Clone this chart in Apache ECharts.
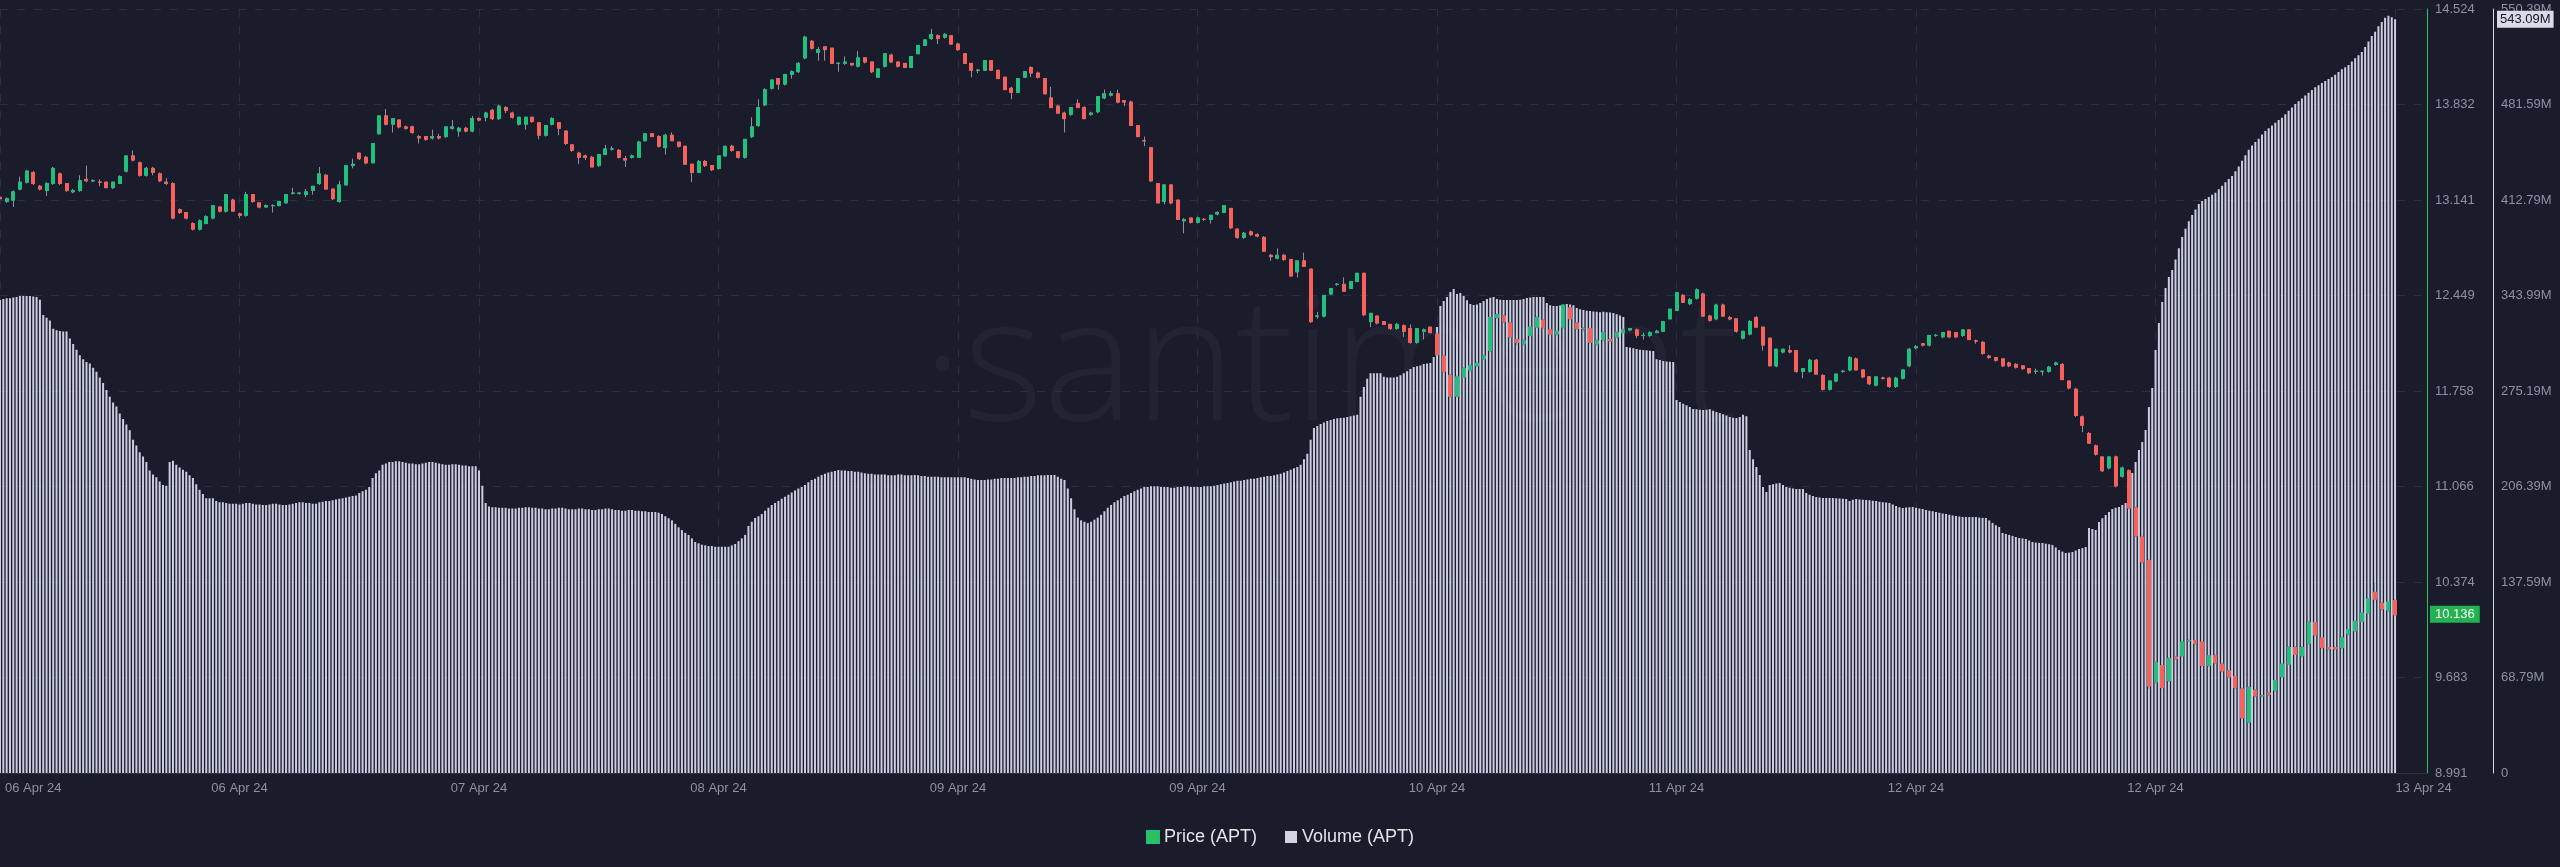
<!DOCTYPE html>
<html><head><meta charset="utf-8">
<script src="https://cdn.jsdelivr.net/npm/echarts@6/dist/echarts.min.js"></script>
<style>html,body{margin:0;padding:0;background:#1a1c2c;}#c{width:2560px;height:867px;}</style>
</head><body><div id="c"></div>
<script>
// x-axis tick labels, one every 36 candles (18 h of 30-min candles)
const xTickLabels = ['06 Apr 24','06 Apr 24','07 Apr 24','08 Apr 24','09 Apr 24','09 Apr 24','10 Apr 24','11 Apr 24','12 Apr 24','12 Apr 24','13 Apr 24'];
const seriesNames = ['Price (APT)', 'Volume (APT)'];

// 30-min candles: [open, close, low, high]
const candles = [
[13.16,13.15,13.13,13.19],[13.13,13.15,13.12,13.16],[13.14,13.20,13.09,13.21],[13.22,13.27,13.21,13.31],[13.27,13.35,13.26,13.36],
[13.34,13.26,13.25,13.35],[13.24,13.22,13.21,13.25],[13.21,13.26,13.17,13.27],[13.26,13.37,13.25,13.38],[13.33,13.26,13.25,13.34],
[13.26,13.21,13.20,13.26],[13.20,13.21,13.19,13.22],[13.21,13.28,13.20,13.32],[13.29,13.28,13.27,13.39],[13.28,13.28,13.27,13.29],
[13.27,13.27,13.24,13.29],[13.27,13.23,13.23,13.27],[13.23,13.27,13.22,13.27],[13.26,13.31,13.26,13.32],[13.35,13.46,13.34,13.46],
[13.46,13.43,13.42,13.50],[13.41,13.32,13.31,13.42],[13.32,13.37,13.31,13.38],[13.37,13.34,13.32,13.38],[13.33,13.28,13.27,13.34],
[13.27,13.26,13.25,13.30],[13.26,13.01,13.00,13.27],[13.07,13.05,13.04,13.08],[13.05,13.01,13.00,13.05],[12.97,12.93,12.92,12.98],
[12.93,12.99,12.92,13.00],[12.97,13.02,12.97,13.03],[13.01,13.10,13.00,13.10],[13.09,13.06,13.05,13.09],[13.06,13.18,13.05,13.18],
[13.14,13.06,13.06,13.15],[13.04,13.03,13.01,13.05],[13.03,13.18,13.02,13.20],[13.18,13.13,13.12,13.18],[13.12,13.09,13.08,13.12],
[13.09,13.10,13.09,13.11],[13.10,13.10,13.05,13.11],[13.10,13.13,13.10,13.13],[13.12,13.18,13.12,13.18],[13.19,13.19,13.18,13.23],
[13.19,13.19,13.18,13.19],[13.18,13.20,13.16,13.22],[13.21,13.24,13.18,13.24],[13.26,13.33,13.25,13.38],[13.32,13.22,13.22,13.33],
[13.22,13.15,13.14,13.22],[13.13,13.25,13.12,13.28],[13.25,13.39,13.25,13.39],[13.39,13.40,13.37,13.44],[13.48,13.44,13.43,13.48],
[13.45,13.41,13.40,13.46],[13.41,13.55,13.41,13.55],[13.62,13.75,13.62,13.75],[13.75,13.69,13.68,13.80],[13.69,13.73,13.63,13.73],
[13.72,13.67,13.66,13.72],[13.67,13.66,13.65,13.68],[13.67,13.63,13.62,13.68],[13.60,13.59,13.55,13.61],[13.60,13.58,13.57,13.60],
[13.59,13.60,13.58,13.65],[13.60,13.59,13.58,13.62],[13.60,13.67,13.59,13.67],[13.66,13.67,13.65,13.72],[13.64,13.66,13.60,13.67],
[13.66,13.64,13.63,13.67],[13.64,13.73,13.63,13.75],[13.73,13.72,13.71,13.74],[13.74,13.77,13.71,13.78],[13.79,13.73,13.72,13.80],
[13.73,13.82,13.72,13.83],[13.81,13.79,13.77,13.82],[13.77,13.74,13.73,13.78],[13.69,13.74,13.68,13.74],[13.69,13.74,13.65,13.74],
[13.74,13.71,13.70,13.74],[13.70,13.61,13.58,13.70],[13.61,13.68,13.60,13.68],[13.69,13.73,13.68,13.74],[13.70,13.66,13.61,13.70],
[13.64,13.55,13.54,13.64],[13.54,13.50,13.49,13.54],[13.48,13.45,13.40,13.49],[13.46,13.45,13.43,13.47],[13.45,13.38,13.38,13.46],
[13.39,13.47,13.38,13.47],[13.47,13.51,13.47,13.54],[13.51,13.51,13.50,13.53],[13.50,13.45,13.44,13.51],[13.44,13.43,13.38,13.46],
[13.45,13.46,13.44,13.47],[13.45,13.56,13.45,13.57],[13.57,13.62,13.57,13.62],[13.62,13.60,13.60,13.62],[13.60,13.53,13.52,13.61],
[13.52,13.61,13.47,13.62],[13.61,13.57,13.57,13.63],[13.56,13.53,13.52,13.56],[13.53,13.40,13.40,13.53],[13.40,13.34,13.27,13.40],
[13.34,13.42,13.34,13.43],[13.42,13.39,13.38,13.43],[13.39,13.36,13.35,13.39],[13.37,13.46,13.36,13.46],[13.46,13.53,13.46,13.53],
[13.53,13.50,13.49,13.54],[13.49,13.45,13.44,13.49],[13.45,13.58,13.44,13.58],[13.60,13.67,13.59,13.74],[13.68,13.81,13.67,13.87],
[13.83,13.94,13.82,13.95],[13.95,14.01,13.94,14.01],[14.02,13.98,13.94,14.02],[13.98,14.05,13.97,14.05],[14.05,14.07,14.02,14.08],
[14.07,14.13,14.06,14.14],
[14.17,14.32,14.16,14.33],[14.29,14.24,14.23,14.30],[14.21,14.23,14.15,14.25],[14.25,14.23,14.15,14.25],[14.24,14.13,14.13,14.24],
[14.13,14.13,14.07,14.14],[14.13,14.14,14.12,14.18],[14.13,14.12,14.11,14.13],[14.11,14.17,14.10,14.22],[14.17,14.14,14.13,14.17],
[14.14,14.07,14.06,14.14],[14.03,14.09,14.03,14.09],[14.11,14.20,14.10,14.20],[14.19,14.14,14.14,14.20],[14.14,14.11,14.10,14.14],
[14.13,14.10,14.10,14.13],[14.10,14.18,14.10,14.18],[14.20,14.26,14.20,14.26],[14.26,14.30,14.26,14.30],[14.31,14.34,14.30,14.38],
[14.33,14.31,14.27,14.34],[14.32,14.34,14.31,14.35],[14.33,14.27,14.27,14.33],[14.27,14.23,14.22,14.28],[14.20,14.13,14.13,14.20],
[14.13,14.08,14.03,14.13],[14.08,14.08,14.06,14.09],[14.08,14.15,14.08,14.15],[14.15,14.08,14.08,14.15],[14.08,14.02,14.02,14.08],
[14.03,13.94,13.94,14.03],[13.95,13.92,13.87,13.96],[13.92,14.02,13.92,14.02],[14.03,14.07,14.03,14.07],[14.10,14.06,14.03,14.11],
[14.06,14.03,14.02,14.07],[14.02,13.91,13.91,14.02],[13.88,13.81,13.81,13.96],[13.82,13.77,13.77,13.83],[13.77,13.73,13.63,13.78],
[13.76,13.81,13.75,13.81],[13.84,13.81,13.81,13.87],[13.81,13.73,13.73,13.82],[13.76,13.77,13.75,13.78],[13.78,13.89,13.77,13.89],
[13.88,13.91,13.87,13.94],[13.90,13.91,13.89,13.93],[13.91,13.85,13.84,13.94],[13.86,13.85,13.82,13.86],[13.85,13.68,13.68,13.86],
[13.68,13.60,13.60,13.68],[13.57,13.57,13.53,13.60],[13.52,13.28,13.27,13.52],[13.26,13.12,13.12,13.26],[13.13,13.25,13.11,13.25],
[13.25,13.12,13.11,13.25],[13.14,13.00,13.00,13.14],[12.99,13.00,12.90,13.01],[13.01,12.98,12.97,13.01],[12.98,13.01,12.97,13.02],
[13.00,13.00,12.99,13.01],[13.00,13.03,12.97,13.03],[13.04,13.05,13.03,13.06],[13.05,13.10,13.05,13.10],[13.08,12.94,12.93,13.08],
[12.93,12.87,12.86,12.93],[12.87,12.90,12.86,12.91],[12.91,12.89,12.88,12.92],[12.89,12.88,12.87,12.90],[12.87,12.77,12.77,12.88],
[12.74,12.73,12.70,12.75],[12.72,12.74,12.71,12.79],[12.74,12.71,12.70,12.75],[12.71,12.59,12.59,12.71],[12.62,12.70,12.58,12.70],
[12.70,12.66,12.66,12.76],[12.64,12.26,12.25,12.64],[12.30,12.30,12.28,12.33],[12.30,12.45,12.29,12.45],[12.46,12.50,12.46,12.50],
[12.53,12.53,12.52,12.54],[12.53,12.48,12.48,12.58],[12.50,12.55,12.50,12.55],[12.55,12.61,12.55,12.61],[12.61,12.31,12.30,12.61],
[12.26,12.32,12.22,12.32],[12.30,12.25,12.24,12.30],[12.26,12.24,12.24,12.26],[12.24,12.21,12.20,12.24],[12.21,12.24,12.20,12.25],
[12.23,12.19,12.15,12.24],[12.21,12.11,12.10,12.24],[12.11,12.21,12.10,12.21],[12.19,12.20,12.13,12.21],[12.22,12.18,12.18,12.22],
[12.17,12.02,12.02,12.18],[12.01,11.90,11.89,12.02],[11.87,11.72,11.71,11.88],[11.72,11.86,11.71,11.87],[11.86,11.92,11.86,11.93],
[11.91,11.94,11.91,11.95],[11.94,11.96,11.93,11.97],[11.99,12.01,11.98,12.02],[12.05,12.29,12.04,12.29],[12.29,12.31,12.28,12.32],
[12.30,12.26,12.25,12.31],[12.25,12.15,12.14,12.25],[12.13,12.11,12.09,12.13],[12.10,12.12,12.09,12.13],[12.16,12.22,12.15,12.22],
[12.22,12.29,12.22,12.30],[12.27,12.22,12.21,12.28],[12.20,12.17,12.16,12.21],[12.17,12.19,12.16,12.19],[12.22,12.38,12.21,12.38],
[12.36,12.28,12.27,12.37],[12.25,12.21,12.20,12.25],[12.21,12.21,12.19,12.22],[12.21,12.11,12.10,12.21],[12.10,12.12,12.09,12.13],
[12.13,12.18,12.12,12.19],[12.13,12.12,12.11,12.14],[12.15,12.18,12.14,12.19],[12.18,12.20,12.18,12.21],[12.20,12.21,12.19,12.21],
[12.20,12.16,12.14,12.21],[12.16,12.16,12.13,12.18],[12.16,12.18,12.15,12.19],[12.18,12.19,12.18,12.20],[12.19,12.26,12.19,12.26],
[12.28,12.35,12.28,12.35],[12.34,12.47,12.34,12.47],[12.45,12.40,12.40,12.46],[12.39,12.42,12.38,12.43],[12.43,12.49,12.42,12.50],
[12.46,12.30,12.30,12.47],[12.30,12.27,12.26,12.31],[12.28,12.38,12.27,12.39],[12.38,12.30,12.30,12.39],[12.29,12.28,12.27,12.30],
[12.28,12.19,12.18,12.28],[12.14,12.19,12.13,12.19],[12.17,12.26,12.16,12.27],[12.29,12.22,12.22,12.30],[12.22,12.09,12.05,12.22],
[12.14,11.94,11.94,12.14],[11.94,12.06,11.93,12.06],[12.04,12.06,12.03,12.06],[12.05,12.04,12.03,12.09],[12.05,11.90,11.89,12.05],
[11.90,11.92,11.85,11.92],[11.90,11.98,11.89,11.99],[11.98,11.88,11.88,11.99],[11.87,11.77,11.76,11.88],[11.77,11.83,11.76,11.83],
[11.83,11.88,11.82,11.88],[11.90,11.90,11.89,11.91],[11.91,12.00,11.90,12.01],[11.99,11.91,11.91,12.00],[11.91,11.86,11.85,11.91],
[11.86,11.81,11.80,11.86],[11.80,11.86,11.79,11.86],[11.85,11.85,11.84,11.86],[11.85,11.79,11.78,11.86],[11.79,11.85,11.78,11.86],
[11.85,11.91,11.84,11.91],[11.94,12.06,11.93,12.07],[12.07,12.08,12.06,12.09],[12.10,12.09,12.08,12.10],[12.09,12.16,12.08,12.16],
[12.16,12.16,12.15,12.17],[12.15,12.18,12.14,12.18],[12.19,12.15,12.14,12.19],[12.18,12.15,12.14,12.18],[12.16,12.20,12.15,12.20],
[12.20,12.13,12.13,12.20],[12.12,12.12,12.10,12.13],[12.11,12.03,12.02,12.12],[12.01,12.00,11.99,12.02],[12.00,11.98,11.97,12.00],
[11.99,11.94,11.93,11.99],[11.96,11.94,11.93,11.97],[11.95,11.93,11.92,11.96],[11.94,11.92,11.91,11.94],[11.92,11.89,11.88,11.92],
[11.90,11.90,11.88,11.92],[11.90,11.90,11.87,11.90],[11.90,11.93,11.89,11.94],[11.95,11.96,11.94,11.97],[11.95,11.84,11.84,11.96],
[11.83,11.78,11.77,11.83],[11.77,11.58,11.57,11.78],[11.57,11.51,11.46,11.58],[11.45,11.38,11.38,11.46],[11.36,11.30,11.29,11.37],
[11.28,11.18,11.17,11.28],[11.20,11.28,11.19,11.28],[11.28,11.07,11.06,11.29],[11.14,11.20,11.13,11.21],[11.18,10.91,10.90,11.19],
[10.91,10.71,10.70,10.92],[10.70,10.52,10.51,10.71],[10.53,9.62,9.60,10.54],[9.65,9.79,9.64,9.80],[9.77,9.61,9.60,9.78],
[9.66,9.82,9.65,9.83],[9.83,9.82,9.81,9.84],[9.84,9.94,9.83,9.95],[9.95,9.95,9.94,9.96],[9.95,9.93,9.92,9.95],
[9.94,9.77,9.76,9.94],[9.77,9.84,9.76,9.84],[9.84,9.79,9.78,9.85],[9.78,9.73,9.72,9.79],[9.73,9.69,9.68,9.73],
[9.69,9.61,9.60,9.69],[9.60,9.39,9.38,9.61],[9.36,9.61,9.35,9.62],[9.59,9.55,9.54,9.60],[9.55,9.55,9.54,9.56],
[9.57,9.56,9.55,9.58],[9.59,9.66,9.58,9.66],[9.69,9.78,9.68,9.78],[9.78,9.90,9.78,9.91],[9.90,9.85,9.85,9.91],
[9.84,9.90,9.83,9.91],[9.93,10.08,9.92,10.09],[10.08,9.99,9.98,10.08],[9.97,9.90,9.89,9.97],[9.90,9.89,9.88,9.90],
[9.90,9.89,9.88,9.91],[9.90,9.97,9.89,9.98],[10.00,10.03,9.99,10.03],[10.02,10.09,10.01,10.09],[10.09,10.15,10.09,10.15],
[10.15,10.25,10.15,10.25],[10.30,10.25,10.24,10.37],[10.22,10.18,10.17,10.23],[10.17,10.23,10.16,10.23],[10.24,10.136,10.13,10.25]
];

// 15-min volume bars, millions of APT
const volumeM = [
340.7,341.5,342,342,342.5,343,343.6,343.6,343.6,343.6,
343.2,342.9,341,330,328,326,320,319,318.5,318,
318,313,309,305,301,298,296,295,292,289,
285,281,276,271,267,264,259,255,251,247,
240,236,231,228,224,218,215,213,210,207.5,
207,224,225,222,220,218.5,217,214.5,212.5,208,
204,201,198,198,198,196,195,195,194.5,194,
194,194,193.5,194,194.5,194.5,194,193.5,193.5,193,
193,193.5,194,194,193.5,193,193,193.5,194,194.5,
195,195,194.5,194.5,194,194,195,195.5,196,196,
196.5,197,197.5,198,198.5,199,199.5,200,201.7,203,
204,206,212.5,216,218,222,223,224,224,224.5,
224.5,224,223.5,223,223,222.5,222.5,223,223.5,224,
224,223.5,223,222.5,222,222,222.5,222.5,222,221.5,
221.5,221,221,221,218,207,194.5,192,191.5,191.5,
191,191,191,190.5,190.5,190.5,191,191,191.5,191.5,
191,191,190.5,190.5,190,190,190.5,190.5,191,191,
190.5,190,190,190,190.5,190.5,190,190,189.5,189.5,
190,190,190.5,190.5,190,189.5,189.5,189,189,189.5,
189.5,189,189,188.5,188.5,188,188,188,187.5,186.6,
185,183.5,182,179.5,177,175,173,171.5,169,166.4,
165.5,164.5,164,163.5,163.5,163,163,163,163,163,
164,165,167,169,171.5,178,181,183.7,185,186.6,
189,191,193,194.5,196,197.5,199,200.5,202,203.5,
205,206,207.5,209.5,211,212,213.5,214.7,215.5,216.5,
217,217.5,218.3,218,218,217.5,217.5,217,217,216.5,
216,215.5,215.5,215,215,215,215,214.5,214.5,214.5,
215,215,214.5,214.5,214.5,214.7,214.5,214,214,213.5,
213.5,213.5,213.5,213,213,213,213,213,213,213,
213,212.5,212,211.5,211,211,211,211.5,211.5,212,
212,212.5,212.5,212.5,212.5,212.5,213,213,213.5,213.5,
214,214,214.5,214.5,214.5,214.7,214.7,214.7,213.5,212,
211,205,198,190,184,182,181,180,181,182.5,
184,186,188.5,191,193,195,196.5,198,199.5,200.5,
201.7,203,204,205,206,206,206.5,206.5,206.5,206,
206,206,205.5,205.5,206,206,206.5,206.5,206,206,
206,206,206.5,206.5,206.5,207,207.5,208,208.5,209,
209.5,210,210.5,210.5,211,211.5,212,212,212.5,213,
213.5,214,214,214.5,215,215.5,216.5,217.5,218.5,219.5,
220.5,222,226,230,240,248.5,250,251.5,252.5,253.5,
254.3,255,255.5,255.7,256,256.5,257,257.5,258,271,
278,284,288,288,288,288,285.5,285,285,285,
285.5,286.5,288,289.5,291,292.5,293,293.5,294.6,295,
295.4,299.7,321.3,336.4,340,342.9,346.5,348.7,345,345.8,
343.6,340.5,337.8,337.1,337.5,338.6,340,341.5,342.3,342.9,
341.5,341,340.7,340.7,340.7,340.7,340.7,341,341.5,342.2,
342.5,342.9,342.9,343,342.9,338.6,337,336.4,336.4,336.8,
337.1,337.8,337.5,337,335,334,333.5,333,332.8,332.5,
332.2,332,332.3,332,331.7,331.4,330.5,329.5,328.5,306.9,
306.5,306,305.5,305,304.7,304.5,304.2,304,298,297.5,
296.8,296.5,296.2,296,268.7,267.3,266,265,263.7,262.2,
262,261.7,261.5,261.7,262,261,260,259.3,258.5,257.5,
256.5,256,255.7,256.5,258,257,232.7,226,220.4,214.7,
206,202.4,207.5,208,208.5,209,207.5,206,205.5,205,
204.6,204.6,204.6,201.7,200.5,199.5,198.8,198.5,198.2,198.1,
198.1,198.1,198,197.8,197.5,197.4,196,196.8,197.4,197,
196.8,196.7,196.5,196.2,196,195.5,195,194.8,194.5,193.5,
192.3,191.5,190.9,191.2,191.5,191.6,191,190.5,190.2,189.5,
189,188.5,188,187.5,187,186.6,186,185.5,185.1,184.8,
184.5,184.4,184.4,184.4,184.4,184,183.8,183.7,182,180.1,
178.5,177.2,172.9,172.2,171.5,170.8,170,169.3,169,168.6,
167.5,166.4,166,165.8,165.7,165.2,164.8,164.3,162.5,160.6,
159.5,158.5,158.8,159.2,160.3,161.4,162,162.8,176.5,175.8,
175.1,180.8,183.5,185.9,188,190.2,191,191.6,193,194.5,
205,216.1,224,232.7,238.5,247.1,263.7,277.4,304.7,324.2,
339.3,349.4,357.3,362.4,370,378,386.1,392,397.5,402,
406,410,412,413.5,415,416.5,418,420.5,423,425.5,
428,430,433.5,437,441,445,449,452,454.5,457,
460,462.5,464.5,466.5,468.5,470.5,472,474.5,477,479.5,
482,484,486,488,490,492,494,495.5,497,498.5,
500,501.4,503,505,507,508.5,510,512.5,515,517,
519.4,523,527,531,534,538,541,544,545.5,544.5,543.09
];

const UP = '#1fbf7c', DOWN = '#f8605a', WICK = '#8d90a6';
const priceIv = 14.524 / 21;
const volIv = 550.39e6 / 8;

const wickData = candles.map((c, i) => [i, c[0], c[1], c[2], c[3]]);
const bodyData = candles.map((c, i) => [i, c[0], c[1], Math.min(c[0], c[1]), Math.max(c[0], c[1])]);
const volData = volumeM.map((v, j) => [j * 0.5, v * 1e6]);
const lastClose = candles[candles.length - 1][1];
const lastVol = volumeM[volumeM.length - 1] * 1e6;

function fmtVol(v) {
  if (v === 0) return '0';
  return (Math.floor(v / 1e6 * 100 + 1e-6) / 100).toFixed(2) + 'M';
}

const axisLabelColor = '#8d91a5';
const gridLine = { show: true, lineStyle: { color: '#2b2f45', type: [8, 9], width: 1 } };
const hiddenLine = { color: 'rgba(0,0,0,0)', width: 0, opacity: 1 };

const chart = echarts.init(document.getElementById('c'), null, { renderer: 'canvas' });
chart.setOption({
  backgroundColor: '#1a1c2c',
  animation: false,
  textStyle: { fontFamily: 'Liberation Sans, Arial, sans-serif' },
  graphic: [{
    type: 'text', left: 922, top: 285, z: 0, silent: true,
    style: { text: '·santiment', fill: 'rgba(255,255,255,0.04)', font: '300 172px "Open Sans", sans-serif' }
  }],
  legend: {
    left: 'center', top: 823, itemWidth: 12, itemHeight: 12, itemGap: 28,
    icon: 'rect',
    textStyle: { color: '#e3e4ec', fontSize: 18, fontFamily: 'Liberation Sans, Arial, sans-serif' },
    data: [
      { name: seriesNames[0], itemStyle: { color: '#2cc15d' } },
      { name: seriesNames[1], itemStyle: { color: '#d2d4e4' } }
    ]
  },
  grid: { left: 0, right: 133, top: 9, bottom: 94 },
  xAxis: {
    type: 'value', min: 0, max: 364.8, interval: 36,
    axisLine: { show: true, onZero: false, lineStyle: { color: '#2e3247' } },
    axisTick: { show: false },
    splitLine: gridLine,
    axisLabel: {
      color: axisLabelColor, fontSize: 13, margin: 9,
      alignMinLabel: 'left', showMaxLabel: false,
      formatter: function (v) {
        const k = Math.round(v / 36);
        if (Math.abs(v - k * 36) > 1e-6 || k >= xTickLabels.length) return '';
        if (k === 0) return '{f|' + xTickLabels[k] + '}';
        if (k === xTickLabels.length - 1) return '{s|' + xTickLabels[k] + '}';
        return xTickLabels[k];
      },
      rich: {
        f: { color: axisLabelColor, fontSize: 13, padding: [0, 0, 0, 5] },
        s: { color: axisLabelColor, fontSize: 13, padding: [0, 0, 0, 57] }
      }
    }
  },
  yAxis: [{
    type: 'value', position: 'right', min: 13 * priceIv, max: 21 * priceIv, interval: priceIv,
    axisLine: { show: true, onZero: false, lineStyle: { color: '#24c55a', width: 1 } },
    axisTick: { show: false },
    splitLine: gridLine,
    axisLabel: { color: axisLabelColor, fontSize: 13, margin: 8, formatter: v => v.toFixed(3) }
  }, {
    type: 'value', position: 'right', offset: 66, min: 0, max: 8 * volIv, interval: volIv,
    axisLine: { show: true, onZero: false, lineStyle: { color: '#d6d8e6', width: 1 } },
    axisTick: { show: false },
    splitLine: { show: false },
    axisLabel: { color: axisLabelColor, fontSize: 13, margin: 8, formatter: fmtVol }
  }],
  series: [{
    name: seriesNames[1], type: 'bar', xAxisIndex: 0, yAxisIndex: 1,
    data: volData, barWidth: 2, z: 1, silent: true,
    itemStyle: { color: '#cbcee2' },
    markLine: {
      silent: true, symbol: ['none', 'none'], z: 10,
      lineStyle: hiddenLine,
      data: [{ yAxis: lastVol }],
      label: {
        show: true, position: 'end', distance: 70, formatter: () => fmtVol(lastVol),
        backgroundColor: '#d9dbe8', color: '#141624', fontSize: 13, padding: [2, 3]
      }
    }
  }, {
    name: 'wick', type: 'candlestick', xAxisIndex: 0, yAxisIndex: 0,
    data: wickData, barWidth: 3.5, z: 3, silent: true,
    dimensions: ['x', 'open', 'close', 'lowest', 'highest'],
    encode: { x: 'x', y: ['open', 'close', 'lowest', 'highest'] },
    itemStyle: { color: 'transparent', color0: 'transparent', borderColor: WICK, borderColor0: WICK, borderWidth: 1 }
  }, {
    name: seriesNames[0], type: 'candlestick', xAxisIndex: 0, yAxisIndex: 0,
    data: bodyData, barWidth: 3.5, z: 4, silent: true,
    dimensions: ['x', 'open', 'close', 'lowest', 'highest'],
    encode: { x: 'x', y: ['open', 'close', 'lowest', 'highest'] },
    itemStyle: { color: UP, color0: DOWN, borderColor: UP, borderColor0: DOWN, borderWidth: 1 },
    markLine: {
      silent: true, symbol: ['none', 'none'], z: 10,
      lineStyle: hiddenLine,
      data: [{ yAxis: lastClose }],
      label: {
        show: true, position: 'end', distance: 3, formatter: () => lastClose.toFixed(3),
        backgroundColor: '#22b24f', color: '#ffffff', fontSize: 13, padding: [2, 5]
      }
    }
  }]
});
</script>
</body></html>
